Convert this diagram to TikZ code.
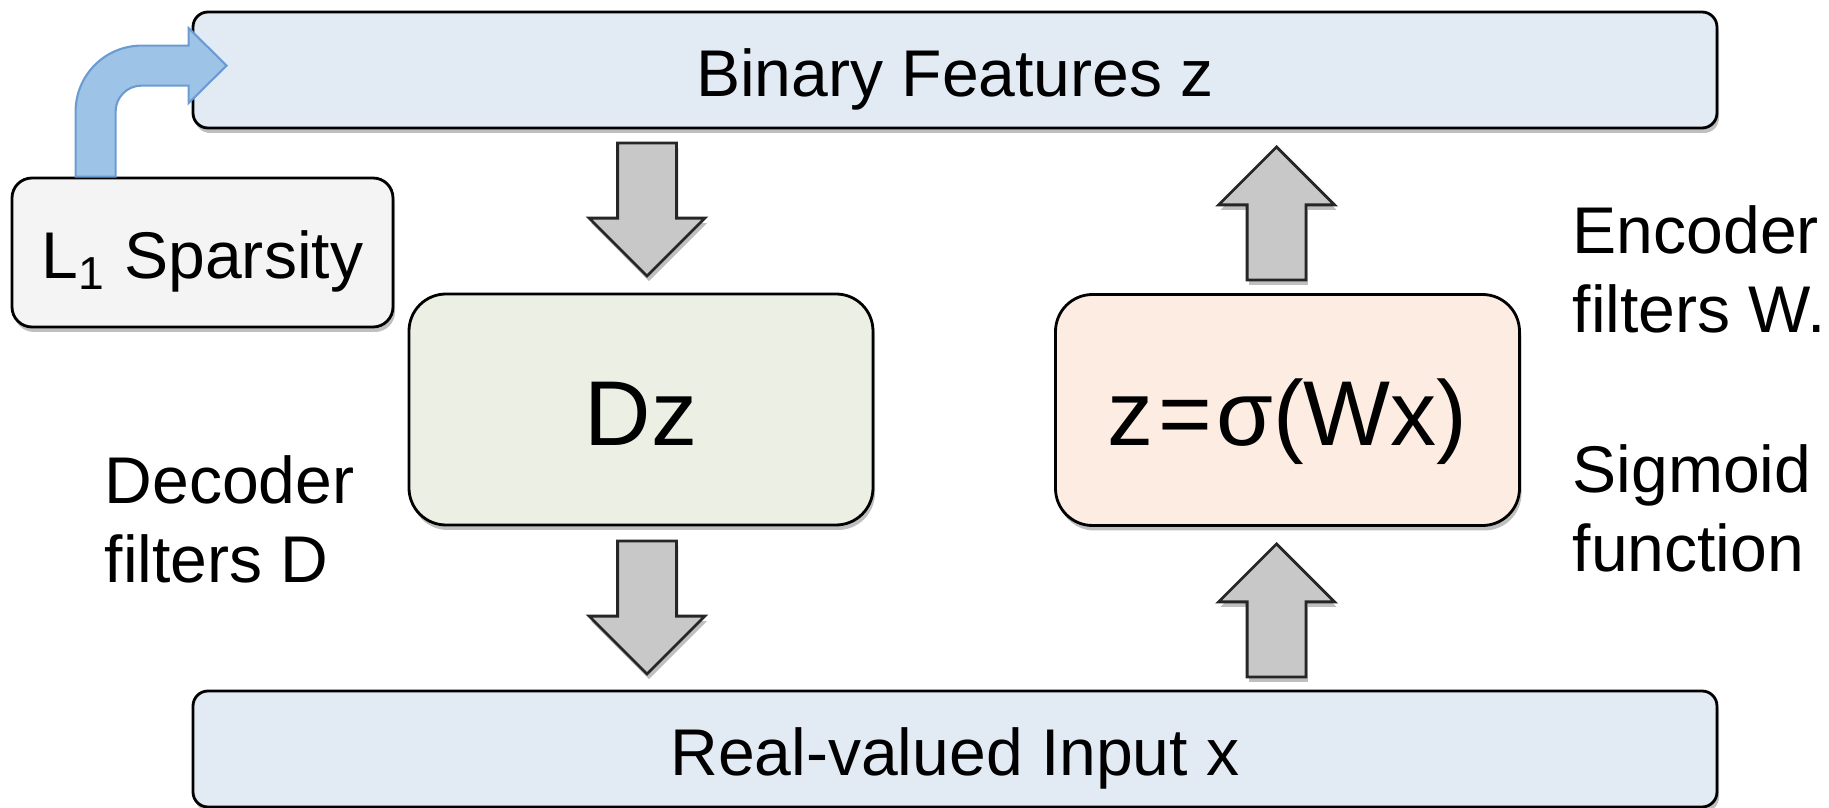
\documentclass[tikz,border=0pt]{standalone}
\usepackage{fontspec}
\setmainfont{Liberation Sans}
\usepackage{xcolor}
\usetikzlibrary{
		calc,
		positioning,
		shapes.arrows,
		shadows
	}
\definecolor{featblue}{RGB}{226,234,244}
\definecolor{decgreen}{RGB}{236,240,228}
\definecolor{encpeach}{RGB}{253,236,225}
\definecolor{sparsegray}{RGB}{244,244,244}
\definecolor{arrowgray}{RGB}{200,200,200}
\definecolor{bendfill}{RGB}{157,195,230}
\definecolor{benddraw}{RGB}{108,155,210}
\tikzset{
		>=stealth,
		softshadow/.style={drop shadow={shadow xshift=0.02cm, shadow yshift=-0.05cm, opacity=0.25, fill=black}},
		layerbar/.style={draw, line width=0.8pt, rounded corners=0.15cm, fill=featblue,
			minimum width=15.24cm, minimum height=1.16cm, inner sep=0pt,
			text height=0.54cm, text depth=0cm, font=\fontsize{18.8}{22.6}\selectfont, softshadow},
		mapbox/.style={draw, line width=0.8pt, rounded corners=0.37cm,
			minimum width=4.64cm, minimum height=2.31cm, inner sep=0pt,
			text height=0.72cm, text depth=0cm, font=\fontsize{26.2}{30}\selectfont, softshadow},
		sidelabel/.style={align=left, inner sep=0pt, anchor=base west, font=\fontsize{18.8}{22.7}\selectfont},
		blockarrow/.style={single arrow, draw=black!85, line width=0.8pt, fill=arrowgray,
			inner xsep=0pt, inner ysep=0.28cm, anchor=tip,
			minimum width=1.13cm, minimum height=1.33cm, single arrow head extend=0.285cm, softshadow}
	}

\begin{document}
\begin{tikzpicture}
          \useasboundingbox (0,0) rectangle (18.29,8.08);

          \node[layerbar] (feat) at (9.55,7.38) {Binary Features z};
          \node[layerbar] (input) at (9.55,0.59) {Real-valued Input x};

          \node[draw, line width=0.8pt, rounded corners=0.2cm, fill=sparsegray,
            minimum width=3.81cm, minimum height=1.49cm, inner sep=0pt,
            text height=0.53cm, text depth=0cm, font=\fontsize{18.8}{22.6}\selectfont,
            softshadow] (sparse) at (2.025,5.555) {L\textsubscript{1} Sparsity};

          \node[mapbox, fill=decgreen] (dec) at (6.41,3.985) {Dz};
          \node[mapbox, fill=encpeach] (enc) at (12.875,3.98) {z\kern0.05em=\kern0.05emσ(Wx)};

          % block arrows, placed by their tips
          \node[blockarrow, rotate=-90] (decin) at (6.47,5.30) {};
          \node[blockarrow, rotate=-90] (decout) at (6.47,1.32) {};
          \node[blockarrow, rotate=90] (encout) at (12.765,6.63) {};
          \node[blockarrow, rotate=90] (encin) at (12.765,2.66) {};

          % bent arrow from the sparsity box into the features bar
          \draw[draw=benddraw, fill=bendfill, line width=0.6pt]
            ([xshift=0.65cm]sparse.north west) -- ++(0,0.65)
            arc[start angle=180, end angle=90, radius=0.66]
            -- ++(0.47,0) -- ++(0,0.175) -- ++(0.38,-0.375) -- ++(-0.38,-0.375)
            -- ++(0,0.175) -- ++(-0.47,0)
            arc[start angle=90, end angle=180, radius=0.26] -- ++(0,-0.65) -- cycle;

          % base anchor sits on the last line
          \node[sidelabel] (declbl) at (1.04,2.25) {Decoder\\filters D};
          \node[sidelabel] (enclbl) at (15.72,4.75) {Encoder\\filters W.};
          \node[sidelabel] (siglbl) at (15.72,2.36) {Sigmoid\\function};

          \end{tikzpicture}
\end{document}
